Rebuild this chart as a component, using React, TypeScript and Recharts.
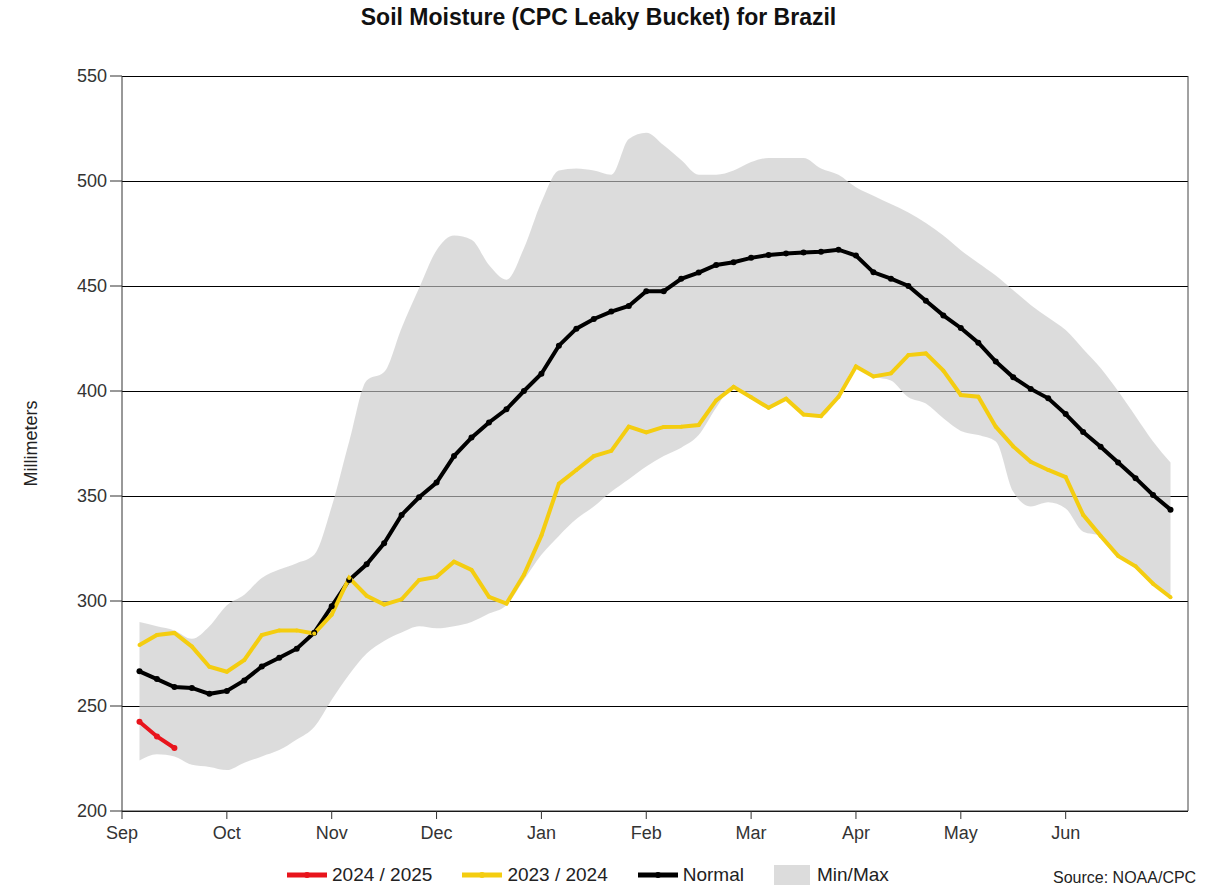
import {
  ComposedChart,
  Line,
  Area,
  XAxis,
  YAxis,
  CartesianGrid,
  Legend,
  ReferenceLine,
} from "recharts";

// pentad values, Sep 1 .. Jun 30 (60 pentads)
const monthLabels = ["Sep", "Oct", "Nov", "Dec", "Jan", "Feb", "Mar", "Apr", "May", "Jun"];
const yTicks = [200, 250, 300, 350, 400, 450, 500, 550];

const normal = [
  266.5, 262.8, 259, 258.6, 255.8, 257.2, 262.2, 268.8, 273, 277.3,
  284.9, 297.5, 310, 317.5, 327.5, 341, 349.4, 356.4, 369, 377.8,
  385, 391.3, 400, 408.2, 421.6, 429.7, 434.3, 437.8, 440.5, 447.5,
  447.5, 453.4, 456.4, 460, 461.3, 463.4, 464.8, 465.5, 466, 466.3,
  467.3, 464.5, 456.5, 453.5, 450, 443, 436, 430, 423, 414,
  406.5, 401, 396.5, 389, 380.5, 373.5, 366, 358.5, 350.5, 343.5,
];

const season2324 = [
  279, 283.8, 284.8, 278.3, 268.7, 266.3, 271.9, 283.8, 286, 286,
  284.5, 293.5, 311, 302.5, 298.3, 300.8, 310, 311.5, 318.7, 314.8,
  302, 298.8, 312.5, 331.2, 355.8, 362.4, 369, 371.5, 383, 380.3,
  382.9, 383, 383.8, 395.5, 402, 397, 392, 396.3, 388.8, 388,
  397.2, 411.7, 406.9, 408.4, 417.1, 417.9, 409.7, 398.1, 397.3, 383,
  373.6, 366.3, 362.4, 359, 341, 331, 321.5, 316.5, 308.2, 301.8,
];

const season2425 = [242.5, 235.5, 230];

const bandMax = [
  290, 288, 286, 282, 288, 298, 303, 311, 315, 318,
  322, 345, 376, 405, 409, 430, 449, 467, 474, 472,
  460, 453, 468, 490, 505, 506, 505, 503, 520, 523,
  517, 510, 503, 503, 505, 509, 511, 511, 511, 506,
  503, 497, 493, 489, 485, 480, 474, 467, 461, 455,
  448, 441, 435, 429, 420, 411, 400, 388, 376, 366,
];

const bandMin = [
  224, 227, 226, 222, 221, 219.5, 223, 226, 229, 234,
  240, 253, 265, 275, 281, 285, 288, 287, 288, 290,
  294, 298, 310, 322, 331, 339, 345, 352, 358, 364,
  369, 373, 379, 392, 402, 397, 392, 396.3, 388.8, 388,
  397.2, 411.7, 406.9, 405, 397, 394, 387, 381, 379, 376,
  352, 345, 347, 344, 333, 331, 321.5, 316.5, 308.2, 301.8,
];

const FONT = "'Liberation Sans', Arial, sans-serif";
const RED = "#E8141C";
const YELLOW = "#F4CD10";

const data = normal.map((v, i) => ({
  p: i + 1,
  normal: v,
  s2324: season2324[i],
  s2425: season2425[i],
  band: [bandMin[i], bandMax[i]],
}));

function LineKey({ color }: { color: string }) {
  return (
    <svg width={40} height={12} style={{ marginRight: 5 }}>
      <line x1={0} y1={6} x2={40} y2={6} stroke={color} strokeWidth={5} />
      <circle cx={20} cy={6} r={3} fill={color} />
    </svg>
  );
}

function ChartLegend() {
  const item = { display: "flex", alignItems: "center", marginRight: 30 };
  return (
    <div style={{ position: "relative", width: 1217, height: 30, fontFamily: FONT, fontSize: 19, color: "#222" }}>
      <div style={{ position: "absolute", left: 287, top: 3, display: "flex", alignItems: "center" }}>
        <div style={item}>
          <LineKey color={RED} />
          <span>2024 / 2025</span>
        </div>
        <div style={item}>
          <LineKey color={YELLOW} />
          <span>2023 / 2024</span>
        </div>
        <div style={item}>
          <LineKey color="#000" />
          <span>Normal</span>
        </div>
        <div style={item}>
          <div style={{ width: 36, height: 20, background: "#dcdcdc", marginRight: 7 }} />
          <span>Min/Max</span>
        </div>
      </div>
      <div style={{ position: "absolute", left: 1053, top: 8, fontSize: 16, color: "#222" }}>
        Source: NOAA/CPC
      </div>
    </div>
  );
}

export default function App() {
  return (
    <div style={{ position: "absolute", left: 0, top: 0, width: 1217, height: 887, background: "#fff", fontFamily: FONT }}>
      <div
        style={{
          position: "absolute",
          left: 0,
          top: 4,
          width: 1197,
          textAlign: "center",
          fontWeight: "bold",
          fontSize: 23,
          color: "#111",
        }}
      >
        Soil Moisture (CPC Leaky Bucket) for Brazil
      </div>
      <ComposedChart
        width={1217}
        height={887}
        data={data}
        margin={{ top: 76, right: 29, bottom: 46, left: 62 }}
      >
        <CartesianGrid vertical={false} stroke="#000" strokeOpacity={1} shapeRendering="crispEdges" />
        <XAxis
          dataKey="p"
          type="number"
          domain={[0, 61]}
          ticks={[0, 6, 12, 18, 24, 30, 36, 42, 48, 54]}
          tickFormatter={(v: number) => monthLabels[Math.round(v / 6)]}
          height={30}
          tickSize={8}
          tickMargin={7}
          tick={{ fontSize: 18, fill: "#333", fontFamily: FONT }}
          axisLine={{ stroke: "#333" }}
          tickLine={{ stroke: "#333" }}
        />
        <YAxis
          type="number"
          domain={[200, 550]}
          ticks={yTicks}
          width={60}
          tickSize={12}
          tickMargin={3}
          tick={{ fontSize: 18, fill: "#333", fontFamily: FONT }}
          axisLine={{ stroke: "#333" }}
          tickLine={{ stroke: "#333" }}
          label={{
            value: "Millimeters",
            angle: -90,
            position: "center",
            dx: -61,
            style: { fontSize: 18, fill: "#222", fontFamily: FONT },
          }}
        />
        <ReferenceLine x={61} stroke="#444" />
        <Area
          dataKey="band"
          type="monotone"
          stroke="none"
          fill="#c8c8c8"
          fillOpacity={0.64}
          isAnimationActive={false}
          activeDot={false}
        />
        <Line
          dataKey="normal"
          stroke="#000"
          strokeWidth={4}
          dot={{ r: 3, fill: "#000", stroke: "none" }}
          isAnimationActive={false}
        />
        <Line
          dataKey="s2324"
          stroke={YELLOW}
          strokeWidth={4}
          dot={{ r: 2, fill: YELLOW, stroke: "none" }}
          isAnimationActive={false}
        />
        <Line
          dataKey="s2425"
          stroke={RED}
          strokeWidth={4}
          dot={{ r: 3, fill: RED, stroke: "none" }}
          isAnimationActive={false}
        />
        <Legend
          layout="horizontal"
          verticalAlign="middle"
          align="center"
          wrapperStyle={{ left: 0, top: 861, width: 1217 }}
          content={() => <ChartLegend />}
        />
      </ComposedChart>
    </div>
  );
}
